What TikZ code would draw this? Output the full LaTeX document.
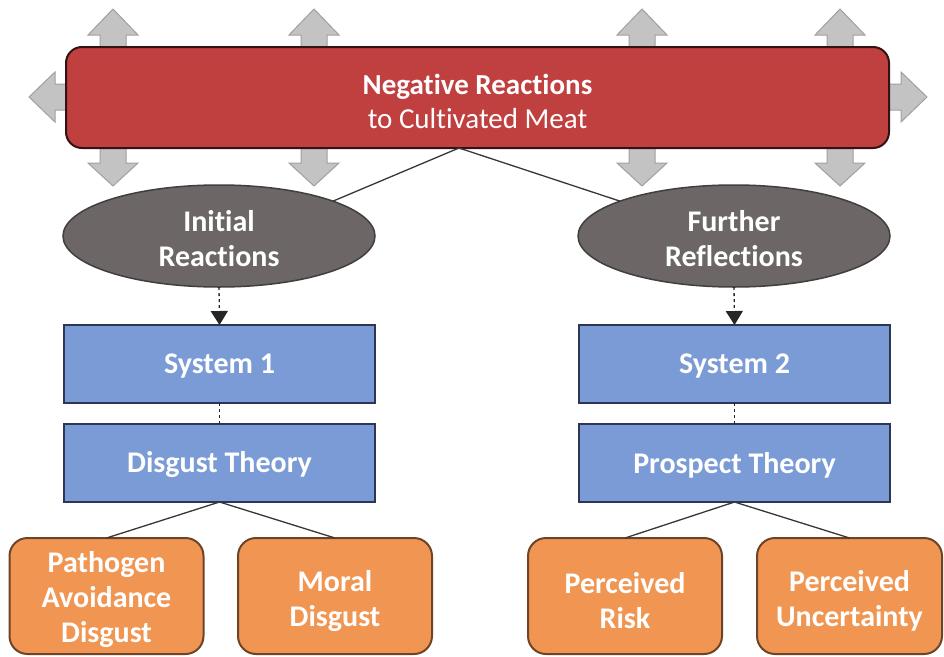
\documentclass[tikz,border=0pt]{standalone}
\usepackage{fontspec}
\setmainfont{Carlito}[Ligatures=NoCommon]
\usetikzlibrary{shapes.geometric,arrows.meta}
\definecolor{redfill}{RGB}{192,64,64}
\definecolor{rededge}{RGB}{50,18,18}
\definecolor{ellfill}{RGB}{108,102,102}
\definecolor{elledge}{RGB}{65,62,62}
\definecolor{bluefill}{RGB}{122,155,214}
\definecolor{blueedge}{RGB}{45,55,85}
\definecolor{orfill}{RGB}{240,150,82}
\definecolor{oredge}{RGB}{110,68,40}
\definecolor{arrfill}{RGB}{195,195,195}
\definecolor{arredge}{RGB}{160,160,160}
\definecolor{linecol}{RGB}{55,55,55}
\tikzset{
  txt/.style={text=white, align=center, inner sep=0pt, font=\bfseries\fontsize{30}{35}\selectfont},
  redbox/.style={draw=rededge, fill=redfill, line width=2pt, rounded corners=16pt,
    minimum width=823pt, minimum height=101pt, inner sep=0pt, outer sep=0pt},
  ellbox/.style={ellipse, draw=elledge, fill=ellfill, line width=1.5pt,
    minimum width=312pt, minimum height=102pt, inner sep=0pt, outer sep=0pt},
  bluebox/.style={draw=blueedge, fill=bluefill, line width=2pt,
    minimum width=311pt, minimum height=78pt, inner sep=0pt, outer sep=0pt},
  orbox/.style={draw=oredge, fill=orfill, line width=2pt, rounded corners=18pt,
    minimum width=194pt, minimum height=116pt, inner sep=0pt, outer sep=0pt},
  bigarrow/.style={fill=arrfill, draw=arredge, line width=1pt},
  conn/.style={draw=linecol, line width=1.3pt},
  dashconn/.style={draw=black!85, line width=1.3pt, dash pattern=on 3pt off 3pt},
  tipconn/.style={dashconn, -{Triangle[length=14pt,width=17pt]}}
}
\begin{document}
\begin{tikzpicture}[x=1pt,y=-1pt]
\useasboundingbox[fill=white] (0,0) rectangle (944,656);
% gray double arrows behind the red box
\foreach \cx in {113,314,642,840}{
  \path[bigarrow] (\cx,9) -- (\cx+25,35) -- (\cx+13,35) -- (\cx+13,163) -- (\cx+25,163)
    -- (\cx,186) -- (\cx-25,163) -- (\cx-13,163) -- (\cx-13,35) -- (\cx-25,35) -- cycle;
}
\path[bigarrow] (29,97) -- (55,72) -- (55,84) -- (901,84) -- (901,72) -- (927,97)
  -- (901,122) -- (901,110) -- (55,110) -- (55,122) -- cycle;
% main box
\node[redbox] (red) at (477.5,97.5) {};
\node[txt, font=\fontsize{29}{34}\selectfont] (redT) at (477.5,101)
  {\textbf{Negative Reactions}\\to Cultivated Meat};
\coordinate (apex) at (459,148);
% ellipses
\node[ellbox] (ell1) at (219,236) {};
\node[ellbox] (ell2) at (734,236) {};
\node[txt] (ell1T) at (219,239) {Initial\\Reactions};
\node[txt] (ell2T) at (734,239) {Further\\Reflections};
% blue boxes
\node[bluebox] (sys1) at (219.5,364) {};
\node[bluebox] (sys2) at (734.5,364) {};
\node[bluebox] (th1) at (219.5,463) {};
\node[bluebox] (th2) at (734.5,463) {};
\node[txt] (sys1T) at (219.5,366) {System 1};
\node[txt] (sys2T) at (734.5,366) {System 2};
\node[txt] (th1T) at (219.5,465) {Disgust Theory};
\node[txt] (th2T) at (734.5,465) {Prospect Theory};
% orange boxes
\node[orbox] (path) at (106.5,596) {};
\node[orbox] (moral) at (335,596) {};
\node[orbox] (risk) at (625,596) {};
\node[orbox, minimum width=185pt] (unc) at (849.5,596) {};
\node[txt] (pathT) at (106.5,600) {Pathogen\\Avoidance\\Disgust};
\node[txt] (moralT) at (335,601) {Moral\\Disgust};
\node[txt] (riskT) at (625,601) {Perceived\\Risk};
\node[txt] (uncT) at (849.5,601) {Perceived\\Uncertainty};
% connectors
\draw[conn] (apex) -- (ell1.17);
\draw[conn] (apex) -- (ell2.163);
\draw[tipconn] (ell1.south) -- (sys1.north);
\draw[tipconn] (ell2.south) -- (sys2.north);
\draw[dashconn] (sys1.south) -- (th1.north);
\draw[dashconn] (sys2.south) -- (th2.north);
\draw[conn] (th1.south) -- (path.north);
\draw[conn] (th1.south) -- (moral.north);
\draw[conn] (th2.south) -- (risk.north);
\draw[conn] (th2.south) -- (unc.north);
\end{tikzpicture}
\end{document}
